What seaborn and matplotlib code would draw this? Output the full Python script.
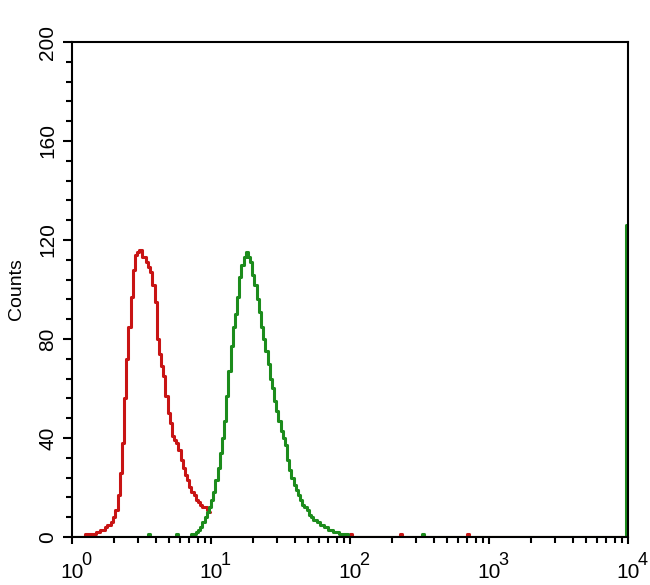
import numpy as np
import matplotlib
matplotlib.use("Agg")
import matplotlib.pyplot as plt
from matplotlib.ticker import MultipleLocator, LogLocator, FixedFormatter, FixedLocator
from matplotlib.transforms import ScaledTranslation
import seaborn as sns

# histogram channels: 256 log bins over 4 decades
n_bins = 256
decades = 4

# isotype control (red), counts per channel starting at channel 0
red_first_bin = 0
red_counts = [0, 0, 0, 0, 0, 0, 1, 1, 1, 1, 1, 2, 2, 3, 3, 4, 5, 5, 6, 8, 11, 17, 26,
              38, 56, 72, 85, 97, 108, 114, 115, 116, 113, 113, 111, 109, 107, 102,
              95, 80, 74, 69, 65, 57, 50, 46, 41, 39, 38, 35, 31, 28, 25, 23, 20, 18,
              17, 15, 14, 13, 12, 12, 11, 10]
red_blip_bins = [128, 151, 182]
red_blip_counts = [1, 1, 1]

# antibody stained sample (green), counts per channel starting at channel 54
green_first_bin = 54
green_counts = [0, 1, 1, 2, 3, 4, 6, 8, 10, 12, 15, 18, 23, 28, 34, 40, 47, 57, 67,
                77, 85, 90, 97, 105, 110, 113, 115, 113, 111, 106, 102, 96, 91, 85,
                80, 75, 70, 64, 60, 55, 51, 47, 43, 40, 37, 31, 27, 24, 21, 19, 17,
                15, 13, 12, 11, 9, 8, 7, 7, 6, 5, 5, 4, 4, 3, 3, 2, 2, 2, 1, 1, 1, 1, 0]
green_blip_bins = [35, 48, 161, 255]
green_blip_counts = [1, 1, 1, 126]

decade_ticks = [1, 10, 100, 1000, 10000]
decade_exponents = ["0", "1", "2", "3", "4"]
y_ticks = [0, 40, 80, 120, 160, 200]

red_color = "#c81414"
green_color = "#1c8c1c"


def full_hist(first, counts, blip_bins, blip_counts):
    h = np.zeros(n_bins)
    h[first:first + len(counts)] = counts
    h[blip_bins] = blip_counts
    return h


channel = 10 ** ((np.arange(n_bins) + 0.5) * decades / n_bins)
red = full_hist(red_first_bin, red_counts, red_blip_bins, red_blip_counts)
green = full_hist(green_first_bin, green_counts, green_blip_bins, green_blip_counts)
# the red trace is hidden under the green one where they meet
red_end = red_first_bin + len(red_counts)

sns.set_style("ticks")
plt.rcParams["font.family"] = ["Liberation Sans", "DejaVu Sans"]
plt.rcParams["text.color"] = "black"

fig = plt.figure(figsize=(6.5, 5.85), dpi=100)
ax = fig.add_axes([0.1108, 0.0821, 0.8554, 0.8461])

sns.lineplot(x=channel[:red_end], y=red[:red_end], color=red_color, lw=2.2,
             drawstyle="steps-mid", estimator=None, ax=ax)
sns.lineplot(x=channel[red_end + 1:], y=red[red_end + 1:], color=red_color, lw=2.2,
             drawstyle="steps-mid", estimator=None, ax=ax)
sns.lineplot(x=channel, y=green, color=green_color, lw=2.2, drawstyle="steps-mid",
             estimator=None, ax=ax)

ax.set_xscale("log")
ax.set_xlim(1, 10000)
ax.set_ylim(0, 200)

ax.yaxis.set_major_locator(FixedLocator(y_ticks))
ax.yaxis.set_minor_locator(MultipleLocator(8))
ax.set_yticklabels([str(t) for t in y_ticks], rotation=90, va="center", fontsize=15)

ax.xaxis.set_major_locator(FixedLocator(decade_ticks))
ax.xaxis.set_major_formatter(FixedFormatter(["10"] * len(decade_ticks)))
ax.xaxis.set_minor_locator(LogLocator(base=10, subs=np.arange(2, 10)))
shift = ScaledTranslation(-4 / 100, 0, fig.dpi_scale_trans)
for lab in ax.get_xticklabels():
    lab.set_fontsize(15)
    lab.set_transform(lab.get_transform() + shift)

# superscript exponents next to the "10" tick labels
for t, e in zip(decade_ticks, decade_exponents):
    ax.annotate(e, xy=(t, 0), xycoords=("data", "axes fraction"),
                xytext=(10.5, -11), textcoords="offset points",
                ha="center", va="top", fontsize=13, color="black",
                annotation_clip=False)

ax.tick_params(axis="both", which="major", width=1.5, color="black",
               labelcolor="black")
ax.tick_params(axis="y", which="major", length=6.5, pad=4)
ax.tick_params(axis="x", which="major", length=5, pad=14)
ax.tick_params(axis="both", which="minor", length=4, width=1.5, color="black")
ax.tick_params(top=False, right=False, which="both")

for s in ax.spines.values():
    s.set_linewidth(1.5)
    s.set_color("black")

ax.set_ylabel("Counts", fontsize=14, labelpad=10, color="black")
ax.set_xlabel("")

fig.savefig("out.png", dpi=100)
